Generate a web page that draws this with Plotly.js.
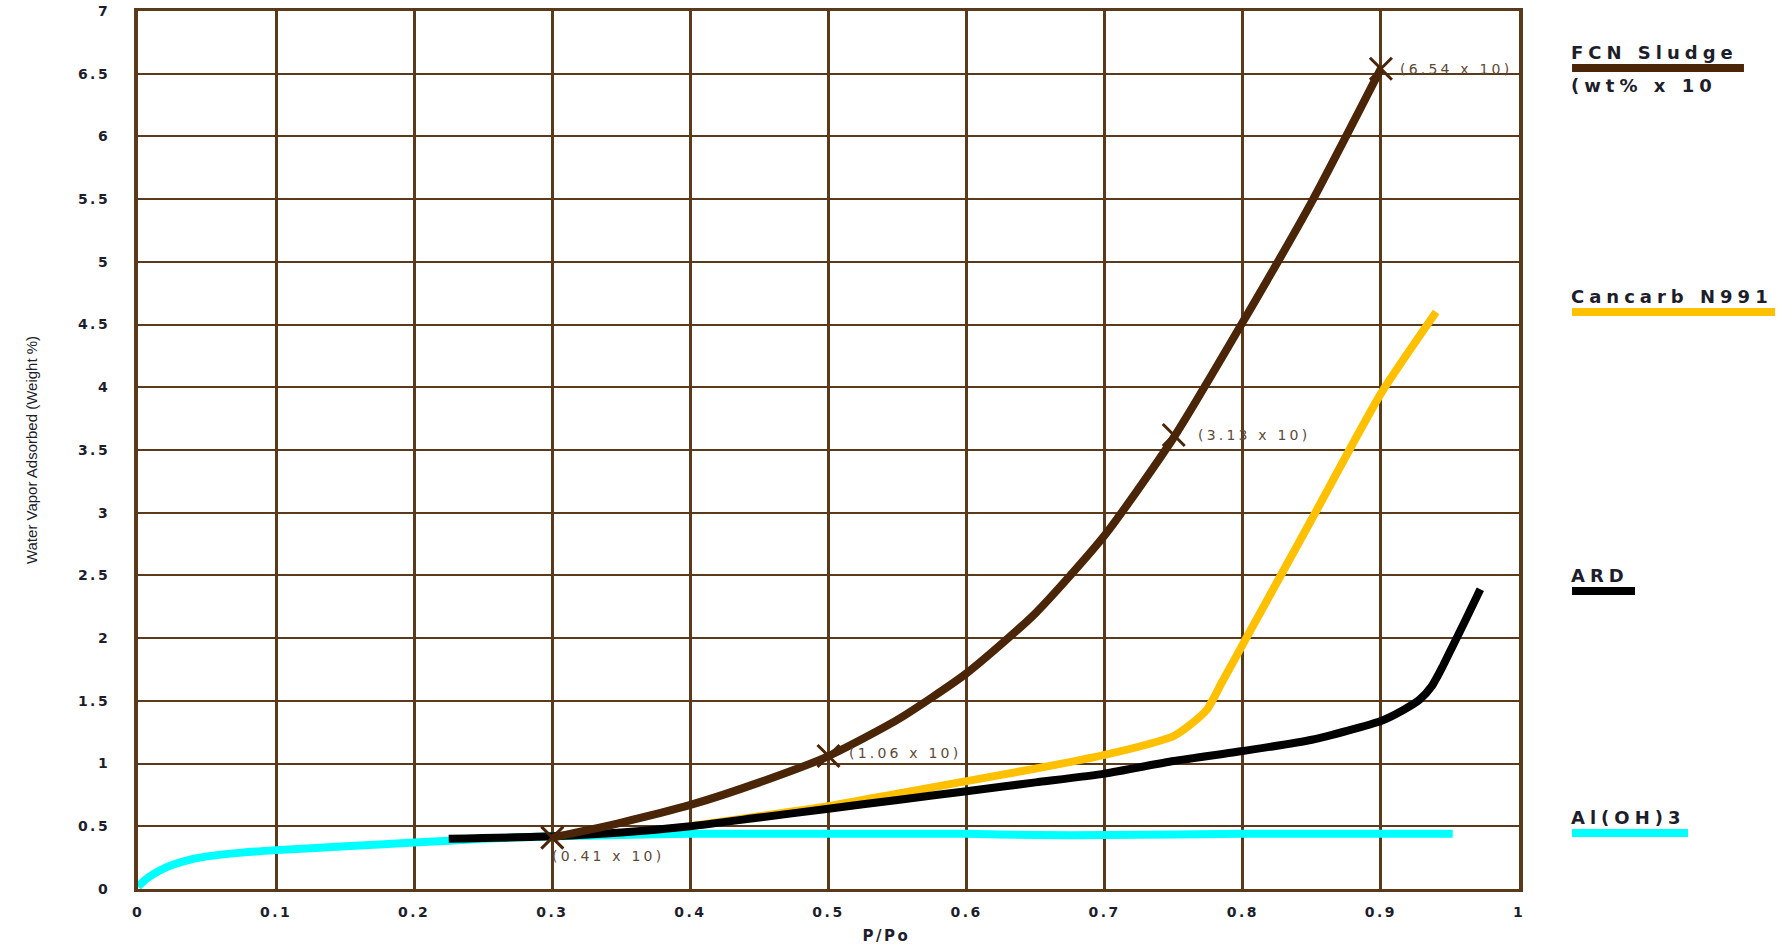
<!DOCTYPE html>
<html>
<head>
<meta charset="utf-8">
<script src="https://cdn.plot.ly/plotly-3.0.1.min.js"></script>
<style>
  html, body { margin: 0; padding: 0; background: #fff; }
  #chart { width: 1784px; height: 950px; }
  .xtick text, .ytick text { letter-spacing: 2.5px; }
  .annotation text { letter-spacing: 3.2px; }
  .annotation[data-index="4"] text, .annotation[data-index="5"] text,
  .annotation[data-index="6"] text, .annotation[data-index="7"] text,
  .annotation[data-index="8"] text { letter-spacing: 5px; }
  .g-xtitle text { letter-spacing: 2.5px; }
  .g-xtitle { transform: translateX(58px); }
</style>
</head>
<body>
<div id="chart"></div>
<script>
// ---- data ----
const seriesNames = ["Al(OH)3", "Cancarb N991", "ARD", "FCN Sludge"];
const seriesColors = ["#00ffff", "#ffc000", "#000000", "#4a2508"];

const alohX = [0, 0.005, 0.01, 0.02, 0.03, 0.04, 0.05, 0.075, 0.1, 0.15, 0.2, 0.25, 0.3, 0.35, 0.4, 0.5, 0.6, 0.65, 0.7, 0.8, 0.9, 0.952];
const alohY = [0.02, 0.07, 0.11, 0.17, 0.21, 0.24, 0.26, 0.29, 0.31, 0.34, 0.37, 0.40, 0.42, 0.43, 0.44, 0.44, 0.44, 0.43, 0.43, 0.44, 0.44, 0.44];

const cancarbX = [0.4, 0.45, 0.5, 0.55, 0.6, 0.65, 0.7, 0.73, 0.75, 0.762, 0.774, 0.785, 0.8, 0.85, 0.9, 0.94];
const cancarbY = [0.5, 0.58, 0.66, 0.76, 0.86, 0.96, 1.07, 1.15, 1.22, 1.31, 1.43, 1.65, 1.95, 2.95, 3.95, 4.6];

const ardX = [0.225, 0.3, 0.35, 0.4, 0.45, 0.5, 0.55, 0.6, 0.65, 0.7, 0.75, 0.8, 0.85, 0.9, 0.915, 0.928, 0.937, 0.945, 0.953, 0.962, 0.972];
const ardY = [0.40, 0.42, 0.45, 0.50, 0.57, 0.64, 0.71, 0.78, 0.85, 0.92, 1.02, 1.10, 1.19, 1.34, 1.42, 1.51, 1.62, 1.78, 1.96, 2.16, 2.39];

const fcnX = [0.3, 0.35, 0.4, 0.45, 0.5, 0.55, 0.6, 0.65, 0.7, 0.75, 0.8, 0.85, 0.9];
const fcnY = [0.41, 0.53, 0.67, 0.85, 1.06, 1.35, 1.72, 2.20, 2.82, 3.60, 4.52, 5.48, 6.54];

// marked points on the FCN Sludge curve and their labels
const markX = [0.3, 0.5, 0.75, 0.9];
const markY = [0.41, 1.06, 3.62, 6.54];
const markLabels = ["(0.41 x 10)", "(1.06 x 10)", "(3.13 x 10)", "(6.54 x 10)"];

const xTickVals = [0, 0.1, 0.2, 0.3, 0.4, 0.5, 0.6, 0.7, 0.8, 0.9, 1];
const xTickText = ["0", "0.1", "0.2", "0.3", "0.4", "0.5", "0.6", "0.7", "0.8", "0.9", "1"];
const yTickVals = [0, 0.5, 1, 1.5, 2, 2.5, 3, 3.5, 4, 4.5, 5, 5.5, 6, 6.5, 7];
const yTickText = ["0", "0.5", "1", "1.5", "2", "2.5", "3", "3.5", "4", "4.5", "5", "5.5", "6", "6.5", "7"];

const legendSub = "(wt% x 10";

// ---- build ----
const xs = [alohX, cancarbX, ardX, fcnX];
const ys = [alohY, cancarbY, ardY, fcnY];
const traces = xs.map((x, i) => ({
  x: x, y: ys[i], name: seriesNames[i], type: "scatter", mode: "lines",
  line: { color: seriesColors[i], width: 8, shape: "spline", smoothing: 0.6 },
  hoverinfo: "skip"
}));
traces.push({
  x: markX, y: markY, type: "scatter", mode: "markers", name: "marks",
  marker: { symbol: "x-thin-open", size: 22, color: seriesColors[3], line: { color: seriesColors[3], width: 3 } },
  hoverinfo: "skip"
});

const labelColor = "#5e4a38";
const annotations = [];
// point labels
const labelShift = [[-2, -18], [18, 3], [22, 0], [17, 0]];
markX.forEach((x, i) => {
  annotations.push({
    x: x, y: markY[i], xref: "x", yref: "y", text: markLabels[i], showarrow: false,
    xanchor: "left", yanchor: "middle", align: "left",
    xshift: labelShift[i][0], yshift: labelShift[i][1],
    font: { family: "DejaVu Sans", size: 14, color: labelColor }
  });
});

// custom legend (text above a thick coloured bar)
const legTextY = [0.0820, 0.6743, 0.3576, 0.9533];
const legLineY = [0.0638, 0.6572, 0.3394, 0.9351];
const legLineX1 = [1.1224, 1.1854, 1.0840, 1.1629];
const legX0 = 1.0384;
const legFont = { family: "DejaVu Sans", size: 18, color: "#1d1d2b", weight: "bold" };
const shapes = [];
seriesNames.forEach((n, i) => {
  annotations.push({
    x: legX0 - 0.002, y: legTextY[i], xref: "paper", yref: "paper", text: n, showarrow: false,
    xanchor: "left", yanchor: "middle", align: "left", font: legFont
  });
  shapes.push({
    type: "line", xref: "paper", yref: "paper", x0: legX0, x1: legLineX1[i], y0: legLineY[i], y1: legLineY[i],
    line: { color: seriesColors[i], width: 8 }
  });
});
annotations.push({
  x: legX0 - 0.002, y: 0.9157, xref: "paper", yref: "paper", text: legendSub, showarrow: false,
  xanchor: "left", yanchor: "middle", align: "left", font: legFont
});

const gridColor = "#5a3a1a";
const tickFont = { family: "DejaVu Sans", size: 14, color: "#1d1d2b", weight: "bold" };
const layout = {
  width: 1784, height: 950,
  margin: { l: 138, r: 265, t: 11, b: 61 },
  paper_bgcolor: "#ffffff", plot_bgcolor: "#ffffff",
  showlegend: false,
  xaxis: {
    range: [0, 1], tickvals: xTickVals, ticktext: xTickText,
    showgrid: true, gridcolor: gridColor, gridwidth: 3,
    zeroline: false, showline: true, linecolor: gridColor, linewidth: 3, mirror: true,
    ticks: "", ticklabelstandoff: 8, tickfont: tickFont,
    title: { text: "P/Po", font: { family: "DejaVu Sans", size: 15, color: "#1d1d2b", weight: "bold" }, standoff: 12 },
    fixedrange: true
  },
  yaxis: {
    range: [0, 7], tickvals: yTickVals, ticktext: yTickText,
    showgrid: true, gridcolor: gridColor, gridwidth: 2,
    zeroline: false, showline: true, linecolor: gridColor, linewidth: 4, mirror: true,
    ticks: "", ticklabelstandoff: 21, tickfont: tickFont,
    title: { text: "Water Vapor Adsorbed (Weight %)", font: { family: "Liberation Sans", size: 15, color: "#1d1d2b" }, standoff: 38 },
    fixedrange: true
  },
  annotations: annotations,
  shapes: shapes
};

Plotly.newPlot("chart", traces, layout, { displayModeBar: false, staticPlot: true });
</script>
</body>
</html>
